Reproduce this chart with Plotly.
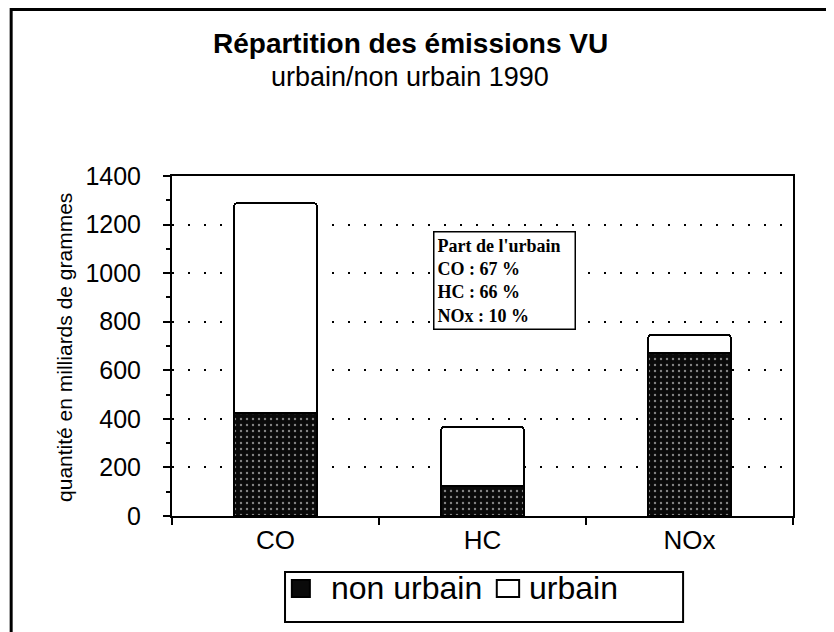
import plotly.graph_objects as go

# données (milliards de grammes)
polluants = ["CO", "HC", "NOx"]
non_urbain = [425, 125, 672]
urbain = [865, 243, 75]
part_urbain = [67, 66, 10]  # en %

sans = "Liberation Sans, Arial, sans-serif"
serif = "Liberation Serif, Times New Roman, serif"

fig = go.Figure()

fig.add_trace(go.Bar(
    x=polluants, y=non_urbain, name="non urbain",
    marker=dict(color="#0a0a0a", line=dict(color="black", width=2),
                pattern=dict(shape=".", fgcolor="white", size=6, solidity=0.12)),
    width=0.4,
))
fig.add_trace(go.Bar(
    x=polluants, y=urbain, name="urbain",
    marker=dict(color="white", line=dict(color="black", width=2)),
    width=0.4,
))

# encadré "Part de l'urbain"
lignes = ["Part de l'urbain"] + [f"{p} : {v} %" for p, v in zip(polluants, part_urbain)]
fig.add_annotation(
    text="<b>" + "<br>".join(lignes) + "</b>", xref="paper", yref="paper",
    x=0.42, y=0.838, xanchor="left", yanchor="top", align="left", width=134,
    showarrow=False, font=dict(family=serif, size=18, color="black"),
    bordercolor="black", borderwidth=1.5, borderpad=3, bgcolor="white",
)

# titres
fig.add_annotation(text="<b>Répartition des émissions VU</b>", xref="paper", yref="paper",
                   x=0.384, y=1.391, xanchor="center", yanchor="middle", showarrow=False,
                   font=dict(family=sans, size=28, color="black"))
fig.add_annotation(text="urbain/non urbain 1990", xref="paper", yref="paper",
                   x=0.384, y=1.291, xanchor="center", yanchor="middle", showarrow=False,
                   font=dict(family=sans, size=27, color="black"))
fig.add_annotation(text="quantité en milliards de grammes", xref="paper", yref="paper",
                   x=-0.174, y=0.497, xanchor="center", yanchor="middle",
                   textangle=-90, showarrow=False,
                   font=dict(family=sans, size=21, color="black"))

# cadre extérieur + cadre de la légende
fig.add_shape(type="rect", xref="paper", yref="paper", x0=-0.259, x1=1.076, y0=-0.54, y1=1.49,
              line=dict(color="black", width=3))
fig.add_shape(type="rect", xref="paper", yref="paper", x0=0.182, x1=0.823, y0=-0.312, y1=-0.165,
              line=dict(color="black", width=2))

# légende dessinée à la main (carrés plus grands que ceux de plotly)
legende = [("non urbain", "#0a0a0a", 0.193, 0.222, 0.253),
           ("urbain", "white", 0.523, 0.559, 0.572)]
for nom, couleur, x0, x1, xt in legende:
    fig.add_shape(type="rect", xref="paper", yref="paper", x0=x0, x1=x1, y0=-0.238, y1=-0.188,
                  fillcolor=couleur, line=dict(color="black", width=2))
    fig.add_annotation(text=nom, xref="paper", yref="paper", x=xt, y=-0.213,
                       xanchor="left", yanchor="middle", showarrow=False,
                       font=dict(family=sans, size=32, color="black"))

# la page a une marge de 8 px : on décale la zone de tracé en conséquence
fig.update_layout(
    width=834, height=632,
    margin=dict(l=164, r=49, t=168, b=124, autoexpand=False),
    barmode="stack", barcornerradius=4,
    plot_bgcolor="white", paper_bgcolor="white",
    font=dict(family=sans, color="black"),
    showlegend=False,
    xaxis=dict(showline=True, linecolor="black", linewidth=2, mirror=True,
               ticks="outside", ticklen=7, tickcolor="black", tickwidth=1.5,
               tickson="boundaries", showgrid=False,
               tickfont=dict(size=26), ticklabelstandoff=0),
    yaxis=dict(range=[0, 1400], dtick=200, showline=True, linecolor="black", linewidth=2,
               mirror=True, ticks="outside", ticklen=7, tickcolor="black", tickwidth=1.5,
               minor=dict(dtick=100, ticks="outside", ticklen=4, tickcolor="black"),
               showgrid=True, gridcolor="black", gridwidth=2, griddash="2px,14px",
               zeroline=False, tickfont=dict(size=25), ticklabelstandoff=17),
)

fig.write_html("out.html")
